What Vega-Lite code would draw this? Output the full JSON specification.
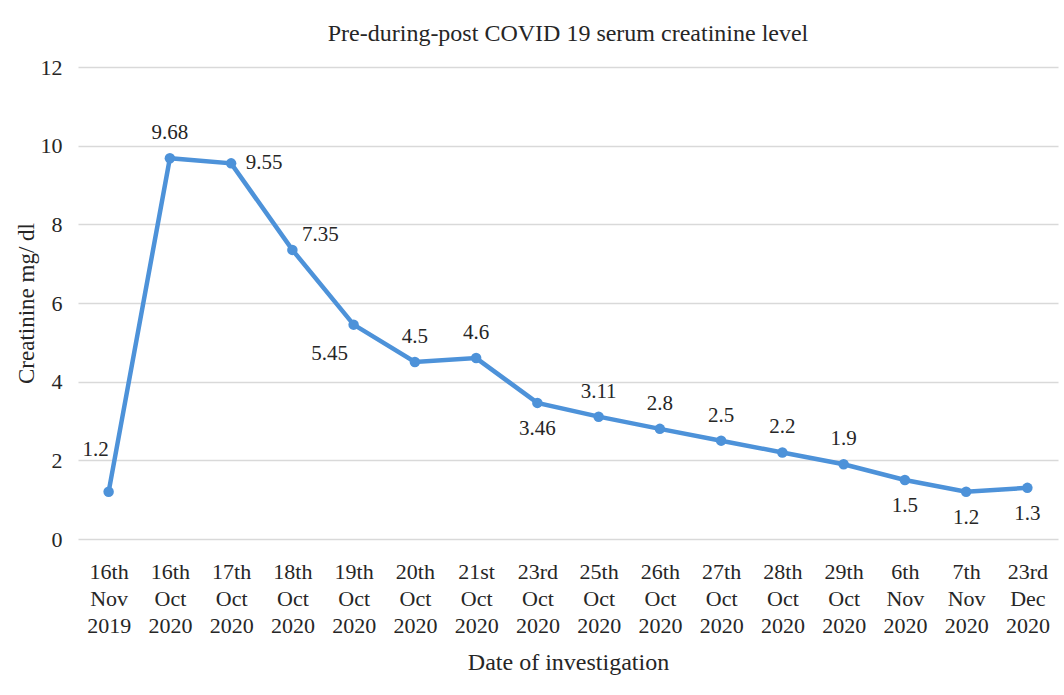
{
  "$schema": "https://vega.github.io/schema/vega-lite/v6.json",
  "autosize": {"type": "none"},
  "padding": {"left": 78, "top": 67, "right": 6, "bottom": 156},
  "width": 980,
  "height": 472,
  "background": "white",
  "title": {"text": "Pre-during-post COVID 19 serum creatinine level", "font": "Liberation Serif", "fontSize": 24, "fontWeight": "normal", "color": "#262626", "offset": 10, "anchor": "middle"},
  "config": {
    "view": {"stroke": null},
    "font": "Liberation Serif",
    "text": {"font": "Liberation Serif"},
    "axis": {"labelFont": "Liberation Serif", "titleFont": "Liberation Serif", "labelColor": "#262626", "titleColor": "#262626", "titleFontWeight": "normal"}
  },
  "data": {"values": [
    {"date": "16th Nov 2019", "creatinine": 1.2},
    {"date": "16th Oct 2020", "creatinine": 9.68},
    {"date": "17th Oct 2020", "creatinine": 9.55},
    {"date": "18th Oct 2020", "creatinine": 7.35},
    {"date": "19th Oct 2020", "creatinine": 5.45},
    {"date": "20th Oct 2020", "creatinine": 4.5},
    {"date": "21st Oct 2020", "creatinine": 4.6},
    {"date": "23rd Oct 2020", "creatinine": 3.46},
    {"date": "25th Oct 2020", "creatinine": 3.11},
    {"date": "26th Oct 2020", "creatinine": 2.8},
    {"date": "27th Oct 2020", "creatinine": 2.5},
    {"date": "28th Oct 2020", "creatinine": 2.2},
    {"date": "29th Oct 2020", "creatinine": 1.9},
    {"date": "6th Nov 2020", "creatinine": 1.5},
    {"date": "7th Nov 2020", "creatinine": 1.2},
    {"date": "23rd Dec 2020", "creatinine": 1.3}
  ]},
  "encoding": {
    "x": {"field": "date", "type": "nominal", "sort": null,
      "scale": {"paddingInner": 0, "paddingOuter": 0},
      "axis": {"title": "Date of investigation", "titleFontSize": 24, "titlePadding": 14, "labelAngle": 0, "labelFontSize": 22, "labelLineHeight": 27, "labelExpr": "split(datum.value, ' ')", "labelPadding": 22, "ticks": false, "domain": false, "grid": false, "labelBaseline": "top"}},
    "y": {"field": "creatinine", "type": "quantitative",
      "scale": {"domain": [0, 12]},
      "axis": {"title": "Creatinine mg/ dl", "titleFontSize": 23, "titlePadding": 2, "values": [0, 2, 4, 6, 8, 10, 12], "labelFontSize": 22, "labelPadding": 16, "ticks": false, "domain": false, "gridColor": "#d9d9d9", "gridWidth": 1.5}}
  },
  "layer": [
    {"mark": {"type": "line", "color": "#4D92D9", "strokeWidth": 4.5}},
    {"mark": {"type": "point", "filled": true, "color": "#4D92D9", "size": 110, "opacity": 1}},
    {"transform": [{"filter": {"field": "date", "oneOf": ["16th Oct 2020", "20th Oct 2020", "21st Oct 2020", "25th Oct 2020", "26th Oct 2020", "27th Oct 2020", "28th Oct 2020", "29th Oct 2020"]}}],
     "mark": {"type": "text", "font": "Liberation Serif", "fontSize": 21, "color": "#262626", "dy": -25},
     "encoding": {"text": {"field": "creatinine", "type": "quantitative"}}},
    {"transform": [{"filter": {"field": "date", "equal": "16th Nov 2019"}}],
     "mark": {"type": "text", "font": "Liberation Serif", "fontSize": 21, "color": "#262626", "dx": -13, "dy": -42},
     "encoding": {"text": {"field": "creatinine", "type": "quantitative"}}},
    {"transform": [{"filter": {"field": "date", "equal": "17th Oct 2020"}}],
     "mark": {"type": "text", "font": "Liberation Serif", "fontSize": 21, "color": "#262626", "dx": 33, "dy": 0},
     "encoding": {"text": {"field": "creatinine", "type": "quantitative"}}},
    {"transform": [{"filter": {"field": "date", "equal": "18th Oct 2020"}}],
     "mark": {"type": "text", "font": "Liberation Serif", "fontSize": 21, "color": "#262626", "dx": 28, "dy": -15},
     "encoding": {"text": {"field": "creatinine", "type": "quantitative"}}},
    {"transform": [{"filter": {"field": "date", "equal": "19th Oct 2020"}}],
     "mark": {"type": "text", "font": "Liberation Serif", "fontSize": 21, "color": "#262626", "dx": -24, "dy": 29},
     "encoding": {"text": {"field": "creatinine", "type": "quantitative"}}},
    {"transform": [{"filter": {"field": "date", "oneOf": ["23rd Oct 2020", "6th Nov 2020", "7th Nov 2020", "23rd Dec 2020"]}}],
     "mark": {"type": "text", "font": "Liberation Serif", "fontSize": 21, "color": "#262626", "dy": 26},
     "encoding": {"text": {"field": "creatinine", "type": "quantitative"}}}
  ]
}
